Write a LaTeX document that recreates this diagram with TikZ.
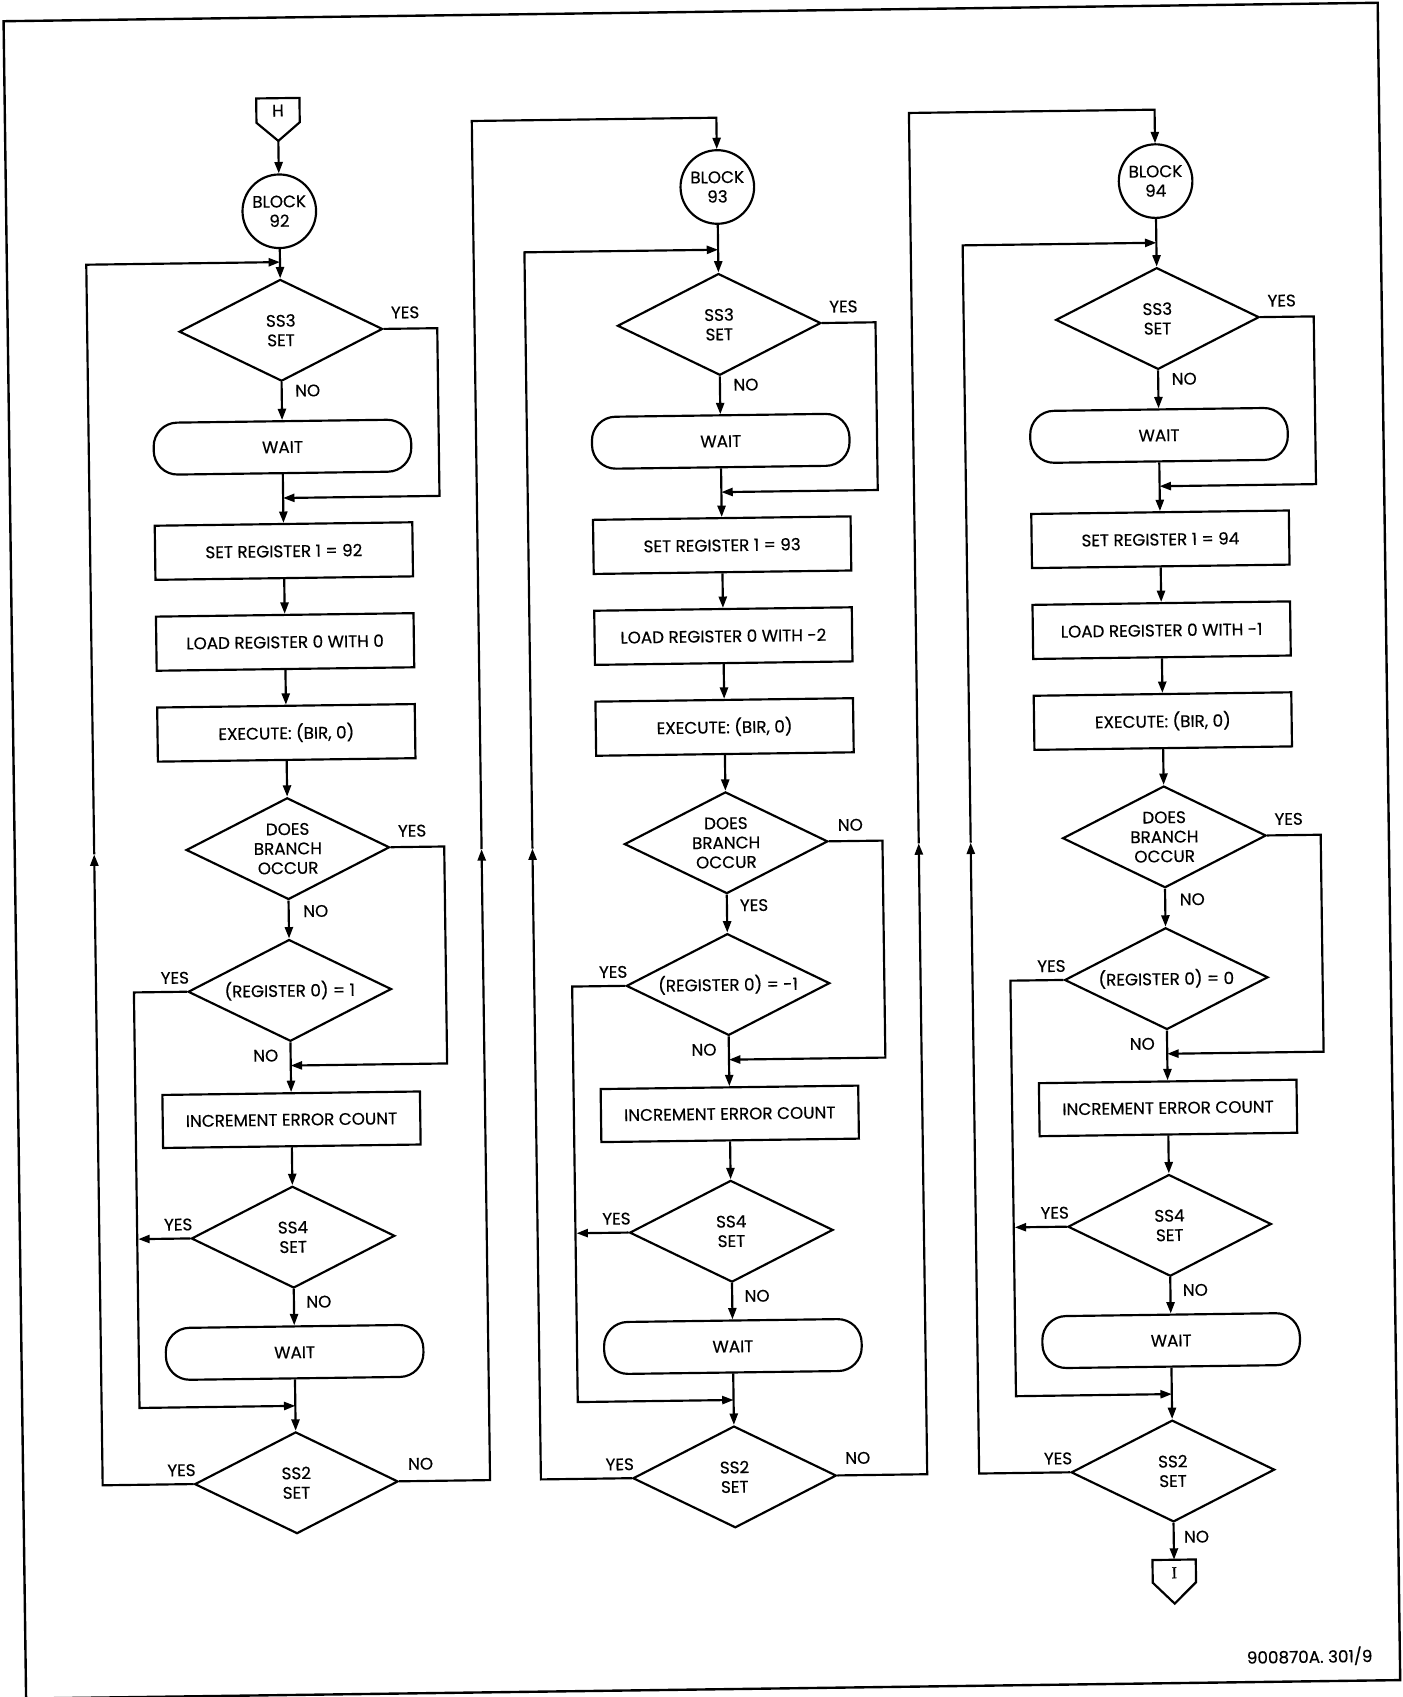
\documentclass[tikz,border=0pt]{standalone}
\usepackage{fontspec}
\setmainfont{Poppins}[FakeBold=0.4]
\newfontfamily\serifI{Liberation Serif}[FakeBold=0.4]
\usetikzlibrary{arrows.meta,shapes.geometric}
\newcommand\flowcol[9]{%
 \node[circ] (b#1) at (#2,#3) {BLOCK\\#4};
 \node[dec] (sa#1) at (#2,300) {SS3\\SET};
 \node[term] (wa#1) at (#2,408) {WAIT};
 \node[proc] (r#1) at (#2,504) {SET REGISTER 1 = #4};
 \node[proc] (l#1) at (#2,588) {LOAD REGISTER 0 WITH #5};
 \node[proc] (e#1) at (#2,672) {EXECUTE: (BIR, 0)};
 \node[dec] (br#1) at (#2,779) {DOES\\BRANCH\\OCCUR};
 \node[dec] (rg#1) at (#2,910) {(REGISTER 0) = #6};
 \node[proc,minimum height=49pt] (ic#1) at (#2,1029.5) {INCREMENT ERROR COUNT};
 \node[dec] (sb#1) at (#2,1138) {SS4\\SET};
 \node[term] (wb#1) at (#2,1244.5) {WAIT};
 \node[dec] (sc#1) at (#2,1365) {SS2\\SET};
 \coordinate (ja#1) at (#2,#9);
 \coordinate (jb#1) at (#2,455);
 \coordinate (jc#1) at (#2,979.5);
 \coordinate (jd#1) at (#2,1294);
 \coordinate (ka#1) at (#2-143,1138);
 \coordinate (ma#1) at (#2-179,782);
 \draw[arr] (b#1.south) -- (sa#1.north);
 \draw[arr] (sa#1.south) -- (wa#1.north);
 \draw[arr] (wa#1.south) -- (r#1.north);
 \draw[arr] (r#1.south) -- (l#1.north);
 \draw[arr] (l#1.south) -- (e#1.north);
 \draw[arr] (e#1.south) -- (br#1.north);
 \draw[arr] (br#1.south) -- (rg#1.north);
 \draw[arr] (rg#1.south) -- (ic#1.north);
 \draw[arr] (ic#1.south) -- (sb#1.north);
 \draw[arr] (sb#1.south) -- (wb#1.north);
 \draw[arr] (wb#1.south) -- (sc#1.north);
 \draw[arr] (sa#1.east) -- ++(49.5,0) |- (jb#1);
 \draw[arr] (br#1.east) -- ++(49.5,0) |- (jc#1);
 \draw[arr] (rg#1.west) -- ++(-49,0) |- (jd#1);
 \draw[arr] (sb#1.west) -- (ka#1);
 \draw[arr] (sc#1.west) -| (ma#1);
 \draw[arr] (ma#1) |- (ja#1);
 \node (ya#1) at (#2+115,285) {YES};
 \node (na#1) at (#2+24,356) {NO};
 \node (xb#1) at (#2+115,764) {#7};
 \node (xc#1) at (#2+25,837) {#8};
 \node (yr#1) at (#2-106,897) {YES};
 \node (nr#1) at (#2-23,970) {NO};
 \node (ys#1) at (#2-106,1125) {YES};
 \node (ns#1) at (#2+23,1198) {NO};
 \node (yt#1) at (#2-106,1352) {YES};
}
\begin{document}
\begin{tikzpicture}[x=1pt,y=-1pt,
  every node/.style={font=\fontsize{15.5}{18}\selectfont, text=black, align=center, inner sep=0pt},
  ln/.style={line width=2pt},
  arr/.style={ln, -{Triangle[length=10.5pt,width=7.5pt]}},
  proc/.style={draw, ln, minimum width=238pt, minimum height=50pt},
  term/.style={draw, ln, rounded corners=22pt, minimum width=238pt, minimum height=48pt},
  dec/.style={draw, ln, diamond, aspect=2, minimum width=188pt, minimum height=94pt},
  circ/.style={draw, ln, circle, minimum size=68pt}]
\useasboundingbox (0,0) rectangle (1296,1568);
\fill[white] (0,0) rectangle (1296,1568);
\begin{scope}[rotate around={0.77:(648,784)}, transform shape]
\draw[line width=2.2pt] (13.6,11) rectangle (1283.4,1561);
% start connector H
\draw[ln] (246,85.5) -- (286,85.5) -- (286,108) -- (266,125) -- (246,108) -- cycle;
\node (H) at (266,97) {H};
\coordinate (Hp) at (266,125);
\flowcol{1}{266}{190}{92}{0}{1}{YES}{NO}{237}
\flowcol{2}{671}{173}{93}{-2}{-1}{NO}{YES}{231}
\flowcol{3}{1076}{173}{94}{-1}{0}{YES}{NO}{230}
\draw[arr] (Hp) -- (b1.north);
% column 1 -> column 2
\coordinate (mb1) at (445,782);
\coordinate (tb1) at (445,109);
\draw[arr] (sc1.east) -| (mb1);
\draw[arr] (mb1) -- (tb1) -| (b2.north);
\node (nt1) at (381,1349) {NO};
% column 2 -> column 3
\coordinate (mb2) at (849,782);
\coordinate (tb2) at (849,107);
\draw[arr] (sc2.east) -| (mb2);
\draw[arr] (mb2) -- (tb2) -| (b3.north);
\node (nt2) at (785,1349) {NO};
% end connector I
\coordinate (It) at (1076,1447);
\draw[arr] (sc3.south) -- (It);
\draw[ln] (1056,1447) -- (1096,1447) -- (1096,1468) -- (1076,1487.5) -- (1056,1468) -- cycle;
\node (I) at (1076,1459) {\serifI I};
\node (nt3) at (1097,1426) {NO};
\node (ft) at (1200,1538) {900870A. 301/9};
\end{scope}
\end{tikzpicture}
\end{document}
